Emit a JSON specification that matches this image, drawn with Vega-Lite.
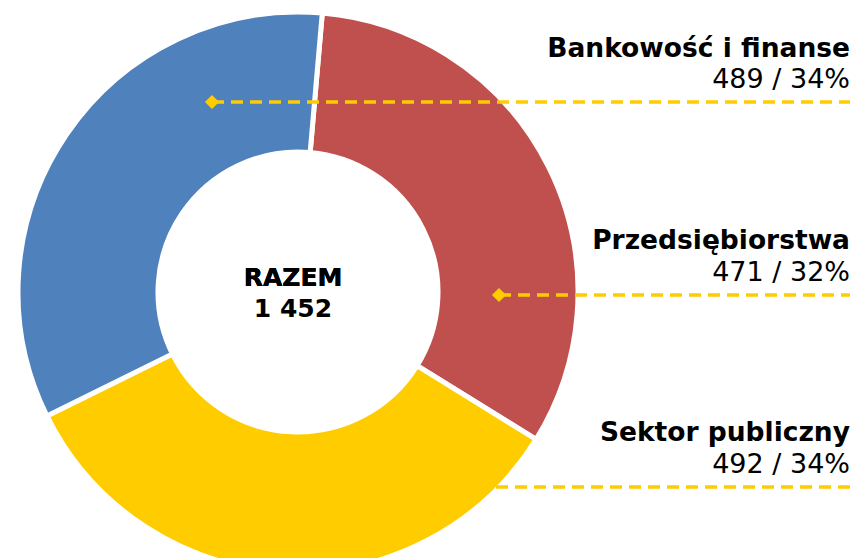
{
  "$schema": "https://vega.github.io/schema/vega-lite/v6.json",
  "width": 854,
  "height": 558,
  "autosize": {"type": "none"},
  "padding": 0,
  "background": "white",
  "config": {
    "view": {"stroke": null},
    "font": "DejaVu Sans",
    "locale": {"number": {"decimal": ",", "thousands": " ", "grouping": [3], "currency": ["", " zł"]}}
  },
  "data": {
    "values": [
      {"cat": "Przedsiębiorstwa", "value": 471, "label": "471 / 32%", "ord": 1},
      {"cat": "Sektor publiczny", "value": 492, "label": "492 / 34%", "ord": 2},
      {"cat": "Bankowość i finanse", "value": 489, "label": "489 / 34%", "ord": 3}
    ]
  },
  "encoding": {
    "x": {"type": "quantitative", "scale": {"domain": [0, 854]}, "axis": null},
    "y": {"type": "quantitative", "scale": {"domain": [558, 0]}, "axis": null}
  },
  "layer": [
    {
      "mark": {"type": "arc", "outerRadius": 280, "innerRadius": 140, "stroke": "white", "strokeWidth": 5},
      "encoding": {
        "theta": {"field": "value", "type": "quantitative", "stack": true, "scale": {"range": [0.087, 6.370]}},
        "order": {"field": "ord", "type": "quantitative"},
        "color": {
          "field": "cat", "type": "nominal", "legend": null,
          "scale": {"domain": ["Przedsiębiorstwa", "Sektor publiczny", "Bankowość i finanse"], "range": ["#C0504D", "#FFCC00", "#4F81BD"]}
        },
        "x": {"datum": 298, "type": "quantitative"},
        "y": {"datum": 292, "type": "quantitative"}
      }
    },
    {
      "mark": {"type": "text", "fontSize": 25, "fontWeight": "bold", "align": "center", "baseline": "alphabetic", "color": "black"},
      "encoding": {
        "text": {"value": "RAZEM"},
        "x": {"datum": 293, "type": "quantitative"},
        "y": {"datum": 286, "type": "quantitative"}
      }
    },
    {
      "transform": [{"aggregate": [{"op": "sum", "field": "value", "as": "total"}]}],
      "mark": {"type": "text", "fontSize": 25, "fontWeight": "bold", "align": "center", "baseline": "alphabetic", "color": "black"},
      "encoding": {
        "text": {"field": "total", "type": "quantitative", "format": ",d"},
        "x": {"datum": 293, "type": "quantitative"},
        "y": {"datum": 317, "type": "quantitative"}
      }
    },
    {
      "transform": [{"filter": "datum.cat === 'Bankowość i finanse'"}],
      "layer": [
        {"mark": {"type": "rule", "color": "#FFCC00", "strokeWidth": 3.5, "strokeDash": [12, 7]},
         "encoding": {"x": {"datum": 212, "type": "quantitative"}, "x2": {"datum": 850}, "y": {"datum": 102, "type": "quantitative"}}},
        {"mark": {"type": "point", "shape": "diamond", "filled": true, "color": "#FFCC00", "opacity": 1, "size": 200},
         "encoding": {"x": {"datum": 212, "type": "quantitative"}, "y": {"datum": 102, "type": "quantitative"}}},
        {"mark": {"type": "text", "fontSize": 26.5, "fontWeight": "bold", "align": "right", "baseline": "alphabetic", "color": "black"},
         "encoding": {"text": {"field": "cat"}, "x": {"datum": 850, "type": "quantitative"}, "y": {"datum": 57, "type": "quantitative"}}},
        {"mark": {"type": "text", "fontSize": 27, "align": "right", "baseline": "alphabetic", "color": "black"},
         "encoding": {"text": {"field": "label"}, "x": {"datum": 850, "type": "quantitative"}, "y": {"datum": 88, "type": "quantitative"}}}
      ]
    },
    {
      "transform": [{"filter": "datum.cat === 'Przedsiębiorstwa'"}],
      "layer": [
        {"mark": {"type": "rule", "color": "#FFCC00", "strokeWidth": 3.5, "strokeDash": [12, 7]},
         "encoding": {"x": {"datum": 499, "type": "quantitative"}, "x2": {"datum": 850}, "y": {"datum": 295, "type": "quantitative"}}},
        {"mark": {"type": "point", "shape": "diamond", "filled": true, "color": "#FFCC00", "opacity": 1, "size": 200},
         "encoding": {"x": {"datum": 499, "type": "quantitative"}, "y": {"datum": 295, "type": "quantitative"}}},
        {"mark": {"type": "text", "fontSize": 26.5, "fontWeight": "bold", "align": "right", "baseline": "alphabetic", "color": "black"},
         "encoding": {"text": {"field": "cat"}, "x": {"datum": 850, "type": "quantitative"}, "y": {"datum": 249, "type": "quantitative"}}},
        {"mark": {"type": "text", "fontSize": 27, "align": "right", "baseline": "alphabetic", "color": "black"},
         "encoding": {"text": {"field": "label"}, "x": {"datum": 850, "type": "quantitative"}, "y": {"datum": 281, "type": "quantitative"}}}
      ]
    },
    {
      "transform": [{"filter": "datum.cat === 'Sektor publiczny'"}],
      "layer": [
        {"mark": {"type": "rule", "color": "#FFCC00", "strokeWidth": 3.5, "strokeDash": [12, 7]},
         "encoding": {"x": {"datum": 420, "type": "quantitative"}, "x2": {"datum": 850}, "y": {"datum": 487, "type": "quantitative"}}},
        {"mark": {"type": "text", "fontSize": 26.5, "fontWeight": "bold", "align": "right", "baseline": "alphabetic", "color": "black"},
         "encoding": {"text": {"field": "cat"}, "x": {"datum": 850, "type": "quantitative"}, "y": {"datum": 441, "type": "quantitative"}}},
        {"mark": {"type": "text", "fontSize": 27, "align": "right", "baseline": "alphabetic", "color": "black"},
         "encoding": {"text": {"field": "label"}, "x": {"datum": 850, "type": "quantitative"}, "y": {"datum": 473, "type": "quantitative"}}}
      ]
    }
  ]
}
